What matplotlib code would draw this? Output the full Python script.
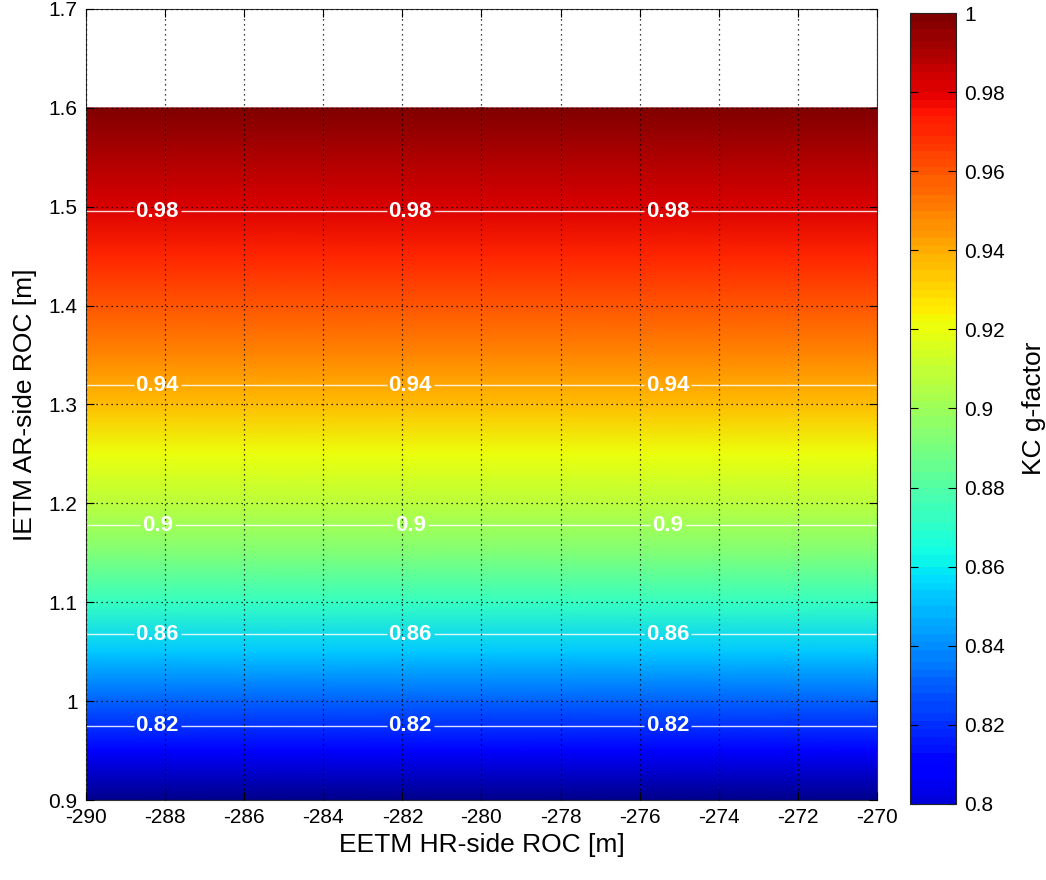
import numpy as np
import matplotlib
matplotlib.use('Agg')
import matplotlib.pyplot as plt
from matplotlib.colors import ListedColormap, Normalize
from matplotlib.ticker import FormatStrFormatter

plt.rcParams['font.family'] = ['Liberation Sans', 'DejaVu Sans']
plt.rcParams['axes.unicode_minus'] = False

# EETM HR-side ROC [m] (x range of the map)
eetm_roc = np.array([-290.0, -280.0, -270.0])
# IETM AR-side ROC [m] rows
ietm_roc = np.array([0.90, 0.95, 1.00, 1.05, 1.10, 1.15, 1.20, 1.25,
                     1.30, 1.35, 1.40, 1.45, 1.50, 1.55, 1.60])
# KC g-factor read off each row (no dependence on EETM ROC)
g_factor = np.array([0.785, 0.809, 0.831, 0.853, 0.873, 0.891, 0.907, 0.921,
                     0.935, 0.948, 0.960, 0.970, 0.981, 0.991, 0.999])
contour_levels = [0.82, 0.86, 0.90, 0.94, 0.98]
label_x = [-288.2, -281.8, -275.3]

X, Y = np.meshgrid(eetm_roc, ietm_roc)
G = np.tile(g_factor[:, None], (1, len(eetm_roc)))

cmap = ListedColormap(plt.get_cmap('jet')(np.linspace(0, 1, 100)))
norm = Normalize(vmin=0.782, vmax=1.0)

fig = plt.figure(figsize=(10.46, 8.8), dpi=100)
ax = fig.add_axes([0.0822, 0.0909, 0.7562, 0.8989])
cax = fig.add_axes([0.870, 0.0864, 0.044, 0.8988])

mesh = ax.pcolormesh(X, Y, G, cmap=cmap, norm=norm, shading='gouraud')

cs = ax.contour(X, Y, G, levels=contour_levels, colors='white',
                linewidths=1.0, alpha=0.85)
manual = [(x, np.interp(lev, g_factor, ietm_roc))
          for lev in contour_levels for x in label_x]
labels = ax.clabel(cs, fmt='%g', fontsize=16, colors='white', inline=True,
                   inline_spacing=2, manual=manual)
for t in labels:
    t.set_fontweight('bold')
    t.set_alpha(1)

ax.set_xlim(-290, -270)
ax.set_ylim(0.9, 1.7)
ax.set_xticks(np.arange(-290, -269, 2))
ax.set_yticks(np.arange(0.9, 1.71, 0.1))
ax.xaxis.set_major_formatter(FormatStrFormatter('%g'))
ax.yaxis.set_major_formatter(FormatStrFormatter('%g'))
ax.tick_params(direction='in', top=True, right=True, length=6,
               labelsize=15, pad=6)
ax.grid(True, color='black', linestyle=(0, (1, 3)), linewidth=0.9)
ax.set_axisbelow(False)
for s in ax.spines.values():
    s.set_color('#333333')

ax.set_xlabel('EETM HR-side ROC [m]', fontsize=19, labelpad=4)
ax.set_ylabel('IETM AR-side ROC [m]', fontsize=19, labelpad=8)

cb = fig.colorbar(mesh, cax=cax, boundaries=np.linspace(0.8, 1.0, 201),
                  ticks=np.arange(0.8, 1.001, 0.02))
cb.ax.yaxis.set_major_formatter(FormatStrFormatter('%g'))
cb.ax.tick_params(direction='in', left=True, right=True, length=6,
                  labelsize=15, pad=6)
cb.outline.set_edgecolor('#222222')
cb.set_label('KC g-factor', fontsize=19, labelpad=12)

fig.savefig('out.png', dpi=100)
